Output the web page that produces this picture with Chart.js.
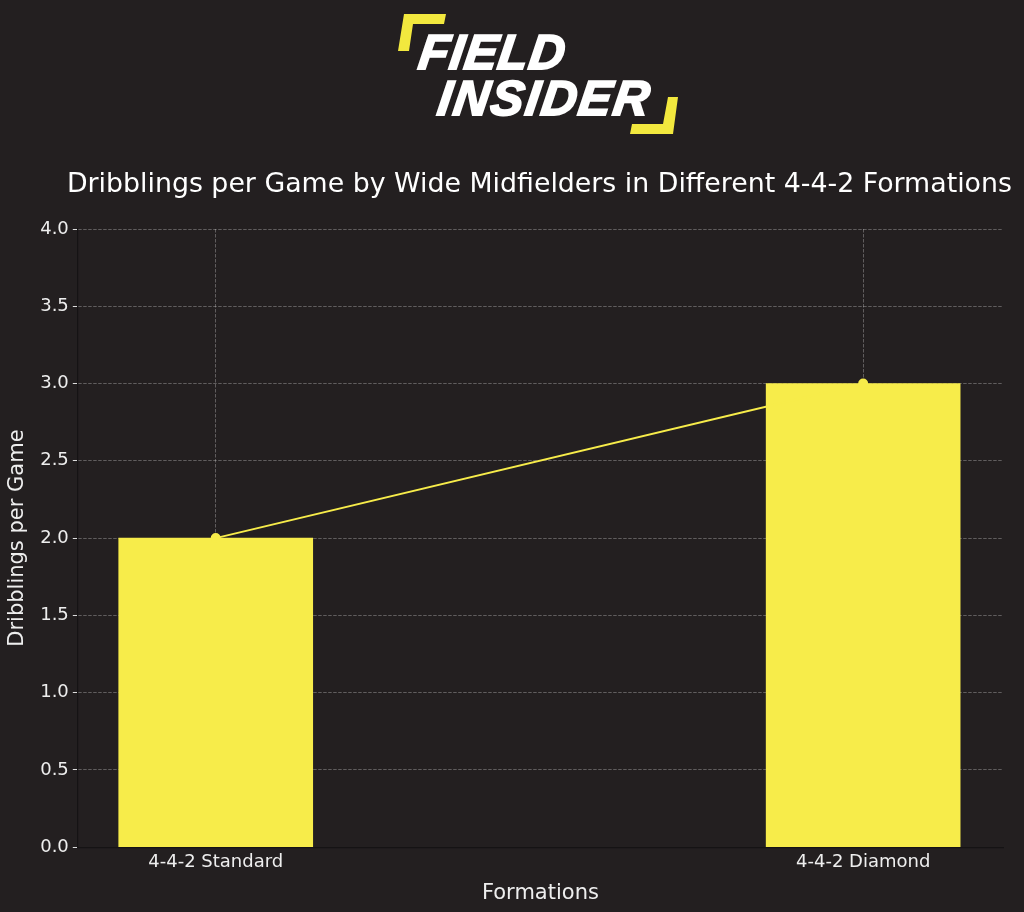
<!DOCTYPE html>
<html>
<head>
<meta charset="utf-8">
<script src="https://cdn.jsdelivr.net/npm/chart.js@4.4.1/dist/chart.umd.min.js"></script>
<style>
html,body{margin:0;padding:0;background:#231f20;}
#wrap{position:relative;width:1024px;height:912px;}
#c{position:absolute;left:0;top:0;}
#logo{position:absolute;left:0;top:0;width:1024px;height:150px;pointer-events:none;}
.lt{position:absolute;font-family:"Liberation Sans",Arial,sans-serif;font-weight:bold;font-style:italic;color:#fff;font-size:49px;line-height:1;letter-spacing:1px;-webkit-text-stroke:2px #fff;transform:skewX(-8deg);transform-origin:left bottom;}
</style>
</head>
<body>
<div id="wrap">
<canvas id="c" width="1024" height="912"></canvas>
<div id="logo">
<svg width="1024" height="150" style="position:absolute;left:0;top:0">
<polygon points="404,14 446,14 444,24 413,24 409,51 398,51" fill="#f2e83e"/>
<polygon points="668,97 678,97 673,134 630,134 632,124 663,124" fill="#f2e83e"/>
</svg>
<div class="lt" style="left:416px;top:28px;">FIELD</div>
<div class="lt" style="left:435px;top:74px;letter-spacing:2px;">INSIDER</div>
</div>
</div>
<script>
const categories = ["4-4-2 Standard", "4-4-2 Diamond"];
const dribblings = [2.0, 3.0];
const yTicks = [0, 0.5, 1.0, 1.5, 2.0, 2.5, 3.0, 3.5, 4.0];
const chartTitle = 'Dribblings per Game by Wide Midfielders in Different 4-4-2 Formations';

const barPoints = categories.map((c, i) => ({x: i, y: dribblings[i]}));
const textColor = '#eeeeee';
const gridColor = 'rgba(255,255,255,0.28)';

const titlePlugin = {
  id: 'centeredTitle',
  afterDraw(chart) {
    const {ctx, chartArea} = chart;
    ctx.save();
    ctx.font = '26.8px "DejaVu Sans"';
    ctx.fillStyle = '#ffffff';
    ctx.textAlign = 'center';
    ctx.textBaseline = 'middle';
    ctx.fillText(chartTitle, (chartArea.left + chartArea.right) / 2 - 1, chartArea.top - 44);
    ctx.restore();
  }
};

new Chart(document.getElementById('c'), {
  type: 'bar',
  data: {
    datasets: [
      {
        type: 'line',
        data: barPoints,
        borderColor: '#f7ec4a',
        backgroundColor: '#f7ec4a',
        borderWidth: 2,
        pointRadius: 4,
        pointHoverRadius: 4,
        tension: 0,
        order: 0
      },
      {
        type: 'bar',
        data: barPoints,
        backgroundColor: '#f7ec4a',
        borderWidth: 0,
        barThickness: 194,
        order: 1
      }
    ]
  },
  plugins: [titlePlugin],
  options: {
    responsive: false,
    animation: false,
    devicePixelRatio: 1,
    layout: {padding: {top: 229, left: 5, right: 21, bottom: 6}},
    plugins: {
      legend: {display: false},
      tooltip: {enabled: false},
      title: {display: false}
    },
    scales: {
      x: {
        type: 'linear',
        offset: false,
        min: -0.213,
        max: 1.216,
        z: 1,
        afterBuildTicks: s => { s.ticks = categories.map((c, i) => ({value: i})); },
        ticks: {
          color: textColor,
          font: {family: 'DejaVu Sans', size: 18},
          padding: 4,
          autoSkip: false,
          maxRotation: 0,
          callback: v => categories[v]
        },
        grid: {offset: false, color: gridColor, lineWidth: 1, drawTicks: false, tickLength: 0},
        border: {display: true, color: '#151314', width: 1.2, dash: [3.5, 1.5]},
        title: {
          display: true, text: 'Formations', color: textColor,
          font: {family: 'DejaVu Sans', size: 21}, padding: {top: 4, bottom: 0}
        }
      },
      y: {
        type: 'linear',
        min: 0,
        max: 4,
        z: 1,
        afterBuildTicks: s => { s.ticks = yTicks.map(v => ({value: v})); },
        ticks: {
          color: textColor,
          font: {family: 'DejaVu Sans', size: 18},
          padding: 4,
          callback: v => v.toFixed(1)
        },
        grid: {color: gridColor, lineWidth: 1, drawTicks: true, tickLength: 5, tickColor: '#dddddd'},
        border: {display: true, color: '#151314', width: 1.2, dash: [3.5, 1.5]},
        title: {
          display: true, text: 'Dribblings per Game', color: textColor,
          font: {family: 'DejaVu Sans', size: 21}, padding: {top: 0, bottom: 6}
        }
      }
    }
  }
});
</script>
</body>
</html>
